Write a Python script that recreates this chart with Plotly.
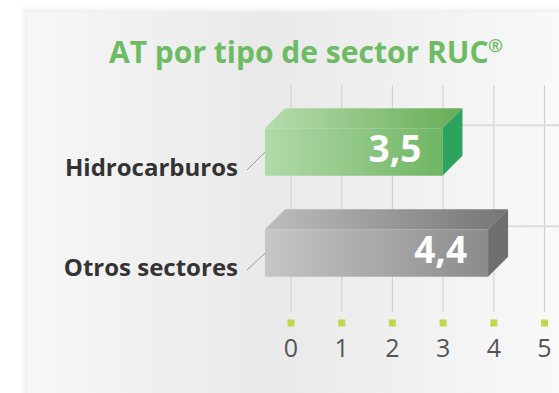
import plotly.graph_objects as go

# Data
categories = ["Hidrocarburos", "Otros sectores"]
values = [3.5, 4.4]
value_labels = ["3,5", "4,4"]
tick_values = [0, 1, 2, 3, 4, 5]
tick_labels = ["0", "1", "2", "3", "4", "5"]
title_text = "AT por tipo de sector RUC"
title_mark = "®"

# Canvas and scale (x in value units, y in pixel units from the top)
W, H = 559, 393
PPU = 50.7          # pixels per value unit
X0_PX = 291         # pixel position of value 0
px = lambda p: (p - X0_PX) / PPU   # pixel -> value units

# 3D bar styling
front_offset = px(265)            # bars' front face starts left of zero
depth_x = 20 / PPU                # perspective depth (value units)
depth_y = 20                      # perspective depth (pixels)
bar_h = 47.4
row_top = [128.3, 229.3]
label_y = [170, 270]

styles = [
    dict(front=["#b3d9aa", "#6fb663"], top=["#b8dcae", "#66ad56"], side="#2ea35e"),
    dict(front=["#c6c6c6", "#8b8b8b"], top=["#bdbdbd", "#757575"], side="#6f6f6f"),
]

fig = go.Figure()


def poly(xs, ys, color=None, grad=None):
    kw = dict(x=xs + [xs[0]], y=ys + [ys[0]], mode="lines", fill="toself",
              line=dict(width=0), hoverinfo="skip", showlegend=False)
    if grad:
        kw["fillgradient"] = dict(type="horizontal", colorscale=grad)
        kw["fillcolor"] = grad[0][1]
    else:
        kw["fillcolor"] = color
    fig.add_trace(go.Scatter(**kw))


# Panel shadow
for k in range(1, 9):
    a = 0.022 * (9 - k) / 8
    fig.add_shape(type="rect", xref="x", yref="y",
                  x0=px(27 - k), x1=px(W + 20), y0=12 - k, y1=H + 20,
                  fillcolor=f"rgba(110,120,140,{a:.3f})", line=dict(width=0), layer="below")

# Panel with soft horizontal shading
poly([px(27), px(W + 5), px(W + 5), px(27)], [12, 12, H + 5, H + 5],
     grad=[[0, "#f7f7f7"], [0.45, "#e9e9e9"], [1, "#f9f9f9"]])

# Vertical grid lines and tick markers
for t in tick_values:
    fig.add_trace(go.Scatter(x=[t, t], y=[85, 312], mode="lines",
                             line=dict(color="#d2d2d2", width=1.2),
                             hoverinfo="skip", showlegend=False))

# Back floor lines behind each bar
for i in range(len(values)):
    yb = row_top[i] - depth_y + 17
    fig.add_trace(go.Scatter(x=[0, px(W + 5)], y=[yb, yb], mode="lines",
                             line=dict(color="#dcdcdc", width=2),
                             hoverinfo="skip", showlegend=False))

fig.add_trace(go.Scatter(x=tick_values, y=[323] * len(tick_values), mode="markers",
                         marker=dict(symbol="square", size=7, color="#c2d64e"),
                         hoverinfo="skip", showlegend=False))
fig.add_trace(go.Scatter(x=tick_values, y=[351] * len(tick_values), mode="text",
                         text=tick_labels, textposition="middle center",
                         textfont=dict(family="Open Sans", size=25, color="#555555"),
                         hoverinfo="skip", showlegend=False))

# 3D bars
for i, v in enumerate(values):
    s = styles[i]
    xl = front_offset
    xr = front_offset + v
    yt = row_top[i]
    yb = yt + bar_h
    # top face
    poly([xl, xl + depth_x, xr + depth_x, xr], [yt, yt - depth_y, yt - depth_y, yt],
         grad=[[0, s["top"][0]], [1, s["top"][1]]])
    # side face
    poly([xr, xr + depth_x, xr + depth_x, xr], [yt, yt - depth_y, yb - depth_y, yb], color=s["side"])
    # front face
    poly([xl, xr, xr, xl], [yt, yt, yb, yb], grad=[[0, s["front"][0]], [1, s["front"][1]]])
    # connector from label to bar
    fig.add_trace(go.Scatter(x=[px(247), xl], y=[label_y[i], yb - 23.5], mode="lines",
                             line=dict(color="#9a9a9a", width=1),
                             hoverinfo="skip", showlegend=False))
    # value label
    fig.add_trace(go.Scatter(x=[xr - 21 / PPU], y=[yt + bar_h / 2 + 1], mode="text",
                             text=[value_labels[i]], textposition="middle left",
                             textfont=dict(family="Open Sans", size=37, color="white", weight="bold"),
                             hoverinfo="skip", showlegend=False))

# Category labels
fig.add_trace(go.Scatter(x=[px(238)] * len(categories), y=label_y, mode="text",
                         text=categories, textposition="middle left",
                         textfont=dict(family="Open Sans", size=24, color="#333333", weight="bold"),
                         hoverinfo="skip", showlegend=False))

# Title with a raised registered mark
fig.add_annotation(x=px(491), y=51, xref="x", yref="y", text=title_text, showarrow=False,
                   font=dict(family="Open Sans", size=30, color="#6dbb63", weight="bold"),
                   xanchor="right", yanchor="middle")
fig.add_annotation(x=px(486), y=45, xref="x", yref="y", text=title_mark, showarrow=False,
                   font=dict(family="Open Sans", size=18, color="#6dbb63", weight="bold"),
                   xanchor="left", yanchor="middle")

fig.update_layout(
    width=W, height=H,
    margin=dict(l=0, r=0, t=0, b=0),
    paper_bgcolor="white", plot_bgcolor="white",
    xaxis=dict(range=[px(0), px(W)], visible=False, fixedrange=True),
    yaxis=dict(range=[H, 0], visible=False, fixedrange=True),
)

fig.write_html("out.html", config={"displayModeBar": False})
